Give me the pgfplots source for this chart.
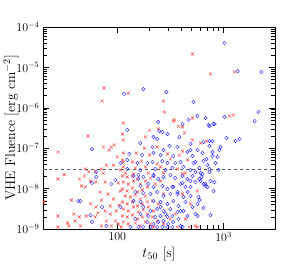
\documentclass[border=0pt]{standalone}
\usepackage{pgfplots}
\pgfplotsset{compat=1.18}
\usepackage{pgfplotstable}
\pgfplotstableread{
x y
75 3.1e-6
72 1.47e-6
127 2.3e-6
114 4.2e-7
510 2.15e-5
753 6.9e-6
1270 7.7e-6
272 1.47e-6
278 7.9e-7
345 5.0e-7
510 5.6e-7
1136 6.3e-7
1240 6.6e-7
376 3.5e-7
53 2.0e-7
27.7 8.0e-8
74 1.07e-7
94 1.2e-7
88 1.07e-7
84 9.0e-8
114 1.6e-7
112 2.25e-7
100 6.1e-8
114 4.5e-8
31.7 2.2e-8
50 3.05e-8
54 2.6e-8
62 2.7e-8
71 3.05e-8
79 3.8e-8
92 3.8e-8
74 2.4e-8
107 2.9e-8
27.7 1.73e-8
44 1.73e-8
49 2.05e-8
56 1.54e-8
63 1.45e-8
77 1.45e-8
46 1.16e-8
50 1.1e-8
102 1.38e-8
20.4 4.7e-9
37 5.2e-9
69 8.2e-9
82 7.3e-9
107 8.7e-9
92 5.5e-9
71 5.2e-9
56 4.2e-9
63 3.5e-9
86 3.7e-9
104 3.9e-9
27.7 2.1e-9
39 2.35e-9
44 2.0e-9
51 2.1e-9
62 2.0e-9
66 2.5e-9
77 2.8e-9
86 2.35e-9
98 2.8e-9
79 1.58e-9
96 1.58e-9
102 1.33e-9
35 1.19e-9
45 1.19e-9
27.7 1.12e-9
71 1.19e-9
88 1.19e-9
109 1.12e-9
34 1.41e-9
40 1.58e-9
337 4.7e-7
411 3.35e-7
201 2.8e-7
429 2.4e-7
184 1.9e-7
510 1.6e-7
180 1.0e-7
238 1.07e-7
411 8.5e-8
114 7.6e-8
151 7.6e-8
201 6.8e-8
297 7.2e-8
384 6.8e-8
112 5.1e-8
139 4.55e-8
169 4.8e-8
238 4.07e-8
316 5.4e-8
458 5.1e-8
114 3.43e-8
148 3.24e-8
184 3.43e-8
255 3.43e-8
368 3.05e-8
119 2.43e-8
142 2.3e-8
196 2.43e-8
272 2.43e-8
438 2.43e-8
607 1.34e-7
691 1.5e-7
568 8.7e-9
438 1.77e-9
544 1.19e-9
411 2.3e-8
243 3.0e-7
112 2.05e-8
124 1.94e-8
139 2.05e-8
155 1.73e-8
114 1.45e-8
127 1.30e-8
142 1.54e-8
165 1.30e-8
184 1.54e-8
205 1.83e-8
112 9.77e-9
124 8.72e-9
139 1.03e-8
155 8.24e-9
172 9.23e-9
192 1.10e-8
119 6.56e-9
133 6.2e-9
148 6.94e-9
165 5.53e-9
184 6.56e-9
112 4.66e-9
124 4.16e-9
139 4.66e-9
155 3.71e-9
172 4.16e-9
192 4.66e-9
214 4.93e-9
114 3.12e-9
127 2.79e-9
142 3.51e-9
158 2.64e-9
176 2.95e-9
196 3.51e-9
219 2.79e-9
112 2.1e-9
124 1.98e-9
139 2.22e-9
155 1.77e-9
172 1.98e-9
192 2.35e-9
214 1.98e-9
114 1.49e-9
127 1.33e-9
148 1.41e-9
165 1.19e-9
184 1.49e-9
205 1.33e-9
238 1.58e-9
272 1.33e-9
316 1.77e-9
352 2.35e-9
243 4.16e-9
272 7.35e-9
228 1.30e-8
255 1.54e-8
411 7.35e-9
488 4.16e-9
477 1.12e-9
568 1.12e-9
368 1.12e-9
219 1.12e-9
}\redtable
\pgfplotstableread{
x y
116 2.2e-6
176 2.9e-6
243 4.45e-7
1020 4.0e-5
1355 8.1e-6
2280 7.7e-6
290 2.45e-6
521 1.39e-6
2130 7.9e-7
467 5.0e-7
568 6.3e-7
676 5.6e-7
1020 5.9e-7
1960 4.7e-7
411 4.0e-7
721 3.75e-7
803 4.0e-7
58 9.5e-8
107 4.3e-8
63.5 2.57e-8
63.5 1.94e-8
58 1.38e-8
96 1.63e-8
88 1.3e-8
43 4.9e-9
45 4.9e-9
72 3.5e-9
107 3.5e-9
56 2.2e-9
58 1.5e-9
79 1.19e-9
124 2.82e-7
249 2.66e-7
297 2.25e-7
384 1.89e-7
219 1.89e-7
238 1.69e-7
488 1.27e-7
165 1.34e-7
214 1.07e-7
272 9.0e-8
310 1.13e-7
368 1.07e-7
568 9.0e-8
458 8.05e-8
130 7.2e-8
172 6.8e-8
219 7.6e-8
255 6.8e-8
337 6.4e-8
510 6.4e-8
124 5.1e-8
155 4.3e-8
192 4.3e-8
214 4.55e-8
266 4.8e-8
297 4.3e-8
352 4.3e-8
393 4.55e-8
544 4.55e-8
124 3.05e-8
165 2.88e-8
228 3.05e-8
284 2.88e-8
330 3.24e-8
419 3.43e-8
488 2.88e-8
158 2.17e-8
219 2.17e-8
316 2.17e-8
737 3.54e-7
821 3.97e-7
1065 1.79e-7
1297 1.51e-7
1414 1.69e-7
737 1.51e-7
787 1.51e-7
737 1.13e-7
936 1.07e-7
916 9.0e-8
634 7.6e-8
787 8.05e-8
787 6.4e-8
691 5.4e-8
840 4.3e-8
706 3.84e-8
594 3.24e-8
607 2.43e-8
737 2.57e-8
896 2.88e-8
648 1.43e-7
488 9.0e-8
878 6.06e-8
648 4.8e-8
737 3.05e-8
521 4.3e-8
634 2.3e-8
607 1.54e-8
648 1.30e-8
706 1.10e-8
803 8.72e-9
594 5.22e-9
753 2.22e-9
393 2.79e-9
510 3.51e-9
568 2.1e-9
438 4.66e-9
368 7.35e-9
458 8.24e-9
330 1.10e-8
411 1.38e-8
488 1.54e-8
544 2.57e-8
620 1.94e-8
594 1.73e-8
753 1.54e-8
821 1.45e-8
676 1.30e-8
676 1.16e-8
648 3.31e-9
142 2.05e-8
158 1.73e-8
176 1.94e-8
219 2.05e-8
243 1.73e-8
272 1.94e-8
352 1.83e-8
411 2.05e-8
458 1.73e-8
510 2.05e-8
165 1.16e-8
196 1.30e-8
219 1.10e-8
266 1.16e-8
297 9.77e-9
337 1.10e-8
393 1.30e-8
438 1.10e-8
544 1.45e-8
148 8.24e-9
176 7.78e-9
205 7.35e-9
238 8.24e-9
272 6.56e-9
316 7.35e-9
368 8.24e-9
420 6.2e-9
488 6.56e-9
580 6.2e-9
142 4.93e-9
165 4.66e-9
219 4.93e-9
255 4.66e-9
297 4.16e-9
337 4.93e-9
376 3.71e-9
176 3.51e-9
205 2.79e-9
238 3.12e-9
272 2.79e-9
316 3.12e-9
368 2.64e-9
420 2.79e-9
165 2.35e-9
196 2.1e-9
228 1.98e-9
255 2.1e-9
297 1.98e-9
330 2.1e-9
376 1.77e-9
458 2.1e-9
192 1.49e-9
219 1.33e-9
243 1.49e-9
272 1.58e-9
302 1.33e-9
337 1.49e-9
393 1.19e-9
176 1.12e-9
205 1.12e-9
238 1.12e-9
266 1.12e-9
297 1.12e-9
330 1.12e-9
411 1.12e-9
255 3.51e-9
284 2.35e-9
148 1.77e-9
133 1.12e-9
158 1.12e-9
488 1.10e-8
544 2.35e-9
568 4.16e-9
266 2.51e-7
}\bluetable
\begin{document}
\begin{tikzpicture}
\useasboundingbox (-43bp,-39bp) rectangle (238bp,229bp);
\begin{axis}[
  at={(0,0)}, anchor=south west,
  scale only axis, width=232bp, height=202bp,
  xmode=log, ymode=log,
  xmin=20, xmax=3050, ymin=1e-9, ymax=1e-4,
  xtick={100,1000}, xticklabels={$100$,$10^3$},
  ytick={1e-9,1e-8,1e-7,1e-6,1e-5,1e-4},
  yticklabels={$10^{-9}$,$10^{-8}$,$10^{-7}$,$10^{-6}$,$10^{-5}$,$10^{-4}$},
  tick align=inside,
  major tick length=6.5bp, minor tick length=4bp,
  tick style={black, line width=0.4pt},
  axis line style={line width=0.5pt},
  tick label style={font=\fontsize{12}{12}\selectfont},
  xlabel style={font=\fontsize{14}{14}\selectfont, yshift=2bp},
  xlabel={$t_{50}$ [s]},
  ylabel={VHE Fluence [erg cm$^{-2}$]},
  every axis y label/.style={at={(axis description cs:0,0.5)}, rotate=90, anchor=center, yshift=32bp, font=\fontsize{14}{14}\selectfont},
]
\addplot[only marks, mark=x, mark size=2.1pt, draw=red!75!white, mark options={line width=0.45pt}] table {\redtable};
\addplot[only marks, mark=o, mark size=1.8pt, draw=blue!80!white, mark options={line width=0.45pt}] table {\bluetable};
\addplot[gray!70!black, dashed, line width=0.5pt] coordinates {(20,3e-8) (3050,3e-8)};
\end{axis}
\end{tikzpicture}
\end{document}
